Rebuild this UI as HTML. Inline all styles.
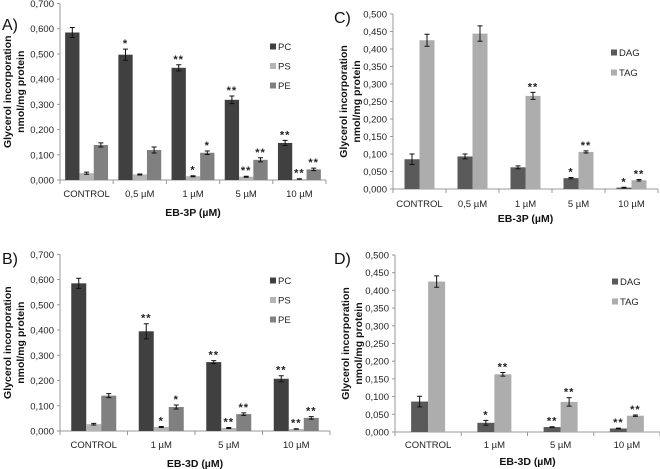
<!DOCTYPE html>
<html><head><meta charset="utf-8">
<style>
body{margin:0;background:#fff;}
svg{display:block;font-family:"Liberation Sans",sans-serif;}
</style></head>
<body>
<svg id="fig" width="660" height="469" viewBox="0 0 660 469" xmlns="http://www.w3.org/2000/svg"></svg>
<script>
// Panel A data
const catsA = ["CONTROL","0,5 µM","1 µM","5 µM","10 µM"];
const pcA = [0.585,0.497,0.445,0.318,0.147];
const psA = [0.027,0.022,0.015,0.013,0.004];
const peA = [0.139,0.119,0.108,0.080,0.042];
const pcAerr = [0.020,0.022,0.012,0.015,0.010];
const psAerr = [0.004,0.002,0.002,0.002,0.001];
const peAerr = [0.008,0.012,0.007,0.008,0.005];
const pcAstar = ["","*","**","**","**"];
const psAstar = ["","","*","**","**"];
const peAstar = ["","","*","**","**"];
// Panel B data
const catsB = ["CONTROL","1 µM","5 µM","10 µM"];
const pcB = [0.585,0.395,0.273,0.207];
const psB = [0.027,0.016,0.012,0.008];
const peB = [0.140,0.095,0.067,0.052];
const pcBerr = [0.020,0.030,0.006,0.012];
const psBerr = [0.003,0.002,0.002,0.001];
const peBerr = [0.008,0.008,0.005,0.005];
const pcBstar = ["","**","**","**"];
const psBstar = ["","*","**","**"];
const peBstar = ["","*","**","**"];
// Panel C data
const catsC = ["CONTROL","0,5 µM","1 µM","5 µM","10 µM"];
const dagC = [0.085,0.093,0.062,0.031,0.004];
const tagC = [0.425,0.444,0.266,0.106,0.025];
const dagCerr = [0.015,0.007,0.004,0.002,0.001];
const tagCerr = [0.017,0.022,0.010,0.003,0.002];
const dagCstar = ["","","","*","*"];
const tagCstar = ["","","**","**","**"];
// Panel D data
const catsD = ["CONTROL","1 µM","5 µM","10 µM"];
const dagD = [0.086,0.026,0.014,0.010];
const tagD = [0.425,0.163,0.085,0.046];
const dagDerr = [0.015,0.007,0.001,0.001];
const tagDerr = [0.016,0.005,0.012,0.002];
const dagDstar = ["","*","**","**"];
const tagDstar = ["","**","**","**"];
// Tick labels
const ticks7 = ["0,000","0,100","0,200","0,300","0,400","0,500","0,600","0,700"];
const ticks5 = ["0,000","0,050","0,100","0,150","0,200","0,250","0,300","0,350","0,400","0,450","0,500"];

const NS="http://www.w3.org/2000/svg";
const svg=document.getElementById('fig');
function mk(tag,attrs,parent,txt){const e=document.createElementNS(NS,tag);for(const k in attrs)e.setAttribute(k,attrs[k]);if(txt!==undefined)e.textContent=txt;(parent||svg).appendChild(e);return e;}

function panel(o){
  const g=mk('g',{});
  
  
  const {x0,x1,y0,yTop,max,cats,series,ticks}=o;
  const ys=v=>y0-(v/max)*(y0-yTop);
  const gw=(x1-x0)/cats.length;
  const ax=mk('line',{x1:x0,y1:yTop,x2:x0,y2:y0,stroke:'#999','stroke-width':1},g);
  
  const xa=mk('line',{x1:x0,y1:y0,x2:x1,y2:y0,stroke:'#999','stroke-width':1},g);
  
  ticks.forEach((t,i)=>{
    const v=max*i/(ticks.length-1);const y=ys(v);
    mk('line',{x1:x0-3,y1:y,x2:x0,y2:y,stroke:'#999'},g);
    const tx=mk('text',{x:x0-6,y:y+3.5,'font-size':9.5,'text-anchor':'end',fill:'#222'},g,t);
    
  });
  for(let i=0;i<=cats.length;i++){const x=x0+i*gw;mk('line',{x1:x,y1:y0,x2:x,y2:y0+4,stroke:'#999'},g);}
  const bw=o.bw, n=series.length;
  cats.forEach((c,i)=>{
    const cx=x0+gw*(i+0.5);
    const lt=mk('text',{x:cx,y:o.labY,'font-size':9.5,'text-anchor':'middle',fill:'#222'},g,c);
    
    series.forEach((s,j)=>{
      const bx=cx-n*bw/2+j*bw;
      const v=s.vals[i],e=s.err[i];
      const r=mk('rect',{x:bx,y:ys(v),width:bw,height:y0-ys(v),fill:s.color},g);
      
      
      const mx=bx+bw/2;
      mk('path',{d:`M${mx},${ys(v+e)}V${ys(v-e)}M${mx-2.5},${ys(v+e)}H${mx+2.5}M${mx-2.5},${ys(v-e)}H${mx+2.5}`,stroke:'#111','stroke-width':1,fill:'none'},g);
      if(s.star[i]){
        const st=mk('text',{x:mx,y:ys(v+e)-2,'font-size':11,'font-weight':'bold','text-anchor':'middle',fill:'#222','letter-spacing':1},g,s.star[i]);
        
      }
    });
  });
  series.forEach((s,j)=>{
    const ly=o.legY+j*o.legGap;
    const sq=mk('rect',{x:o.legX,y:ly-3.5,width:6,height:6,fill:s.color},g);
    
    const lt=mk('text',{x:o.legX+8,y:ly+3,'font-size':9.5,fill:'#222'},g,s.name);
    
  });
  const pl=mk('text',{x:o.plX,y:o.plY,'font-size':16,fill:'#111'},g,o.id+')');
  
  const ymid=(y0+yTop)/2;
  const t1=mk('text',{x:0,y:0,'font-size':10.5,'font-weight':'bold','text-anchor':'middle',fill:'#111',transform:`translate(${o.ttX},${ymid}) rotate(-90)`},g,'Glycerol incorporation');
  
  const t2=mk('text',{x:0,y:0,'font-size':10.5,'font-weight':'bold','text-anchor':'middle',fill:'#111',transform:`translate(${o.ttX+13},${ymid}) rotate(-90)`},g,'nmol/mg protein');
  
  const xt=mk('text',{x:(x0+x1)/2,y:o.xtY,'font-size':10.5,'font-weight':'bold','text-anchor':'middle',fill:'#111'},g,o.xt);
  
}
const cPC='#404040',cPS='#b4b4b4',cPE='#808080',cDAG='#5a5a5a',cTAG='#adadad';
panel({id:'A',x0:60,x1:326,y0:180,yTop:3.5,max:0.7,cats:catsA,ticks:ticks7,bw:14.3,
  series:[{name:'PC',vals:pcA,err:pcAerr,star:pcAstar,color:cPC},{name:'PS',vals:psA,err:psAerr,star:psAstar,color:cPS},{name:'PE',vals:peA,err:peAerr,star:peAstar,color:cPE}],
  legX:270,legY:47,legGap:19.5,plX:2,plY:30,ttX:11,labY:197,xtY:216,xt:'EB-3P (µM)'});
panel({id:'C',x0:393,x1:658,y0:189,yTop:14,max:0.5,cats:catsC,ticks:ticks5,bw:15,
  series:[{name:'DAG',vals:dagC,err:dagCerr,star:dagCstar,color:cDAG},{name:'TAG',vals:tagC,err:tagCerr,star:tagCstar,color:cTAG}],
  legX:611,legY:53,legGap:20,plX:334,plY:23,ttX:347,labY:207,xtY:222,xt:'EB-3P (µM)'});
panel({id:'B',x0:60,x1:330,y0:431,yTop:254.3,max:0.7,cats:catsB,ticks:ticks7,bw:15,
  series:[{name:'PC',vals:pcB,err:pcBerr,star:pcBstar,color:cPC},{name:'PS',vals:psB,err:psBerr,star:psBstar,color:cPS},{name:'PE',vals:peB,err:peBerr,star:peBstar,color:cPE}],
  legX:270,legY:281,legGap:19.5,plX:2,plY:264,ttX:11,labY:448,xtY:467,xt:'EB-3D (µM)'});
panel({id:'D',x0:395,x1:660,y0:432,yTop:255,max:0.5,cats:catsD,ticks:ticks5,bw:17,
  series:[{name:'DAG',vals:dagD,err:dagDerr,star:dagDstar,color:cDAG},{name:'TAG',vals:tagD,err:tagDerr,star:tagDstar,color:cTAG}],
  legX:612,legY:282,legGap:20,plX:334,plY:264,ttX:349,labY:448,xtY:465,xt:'EB-3D (µM)'});
</script>
</body></html>
